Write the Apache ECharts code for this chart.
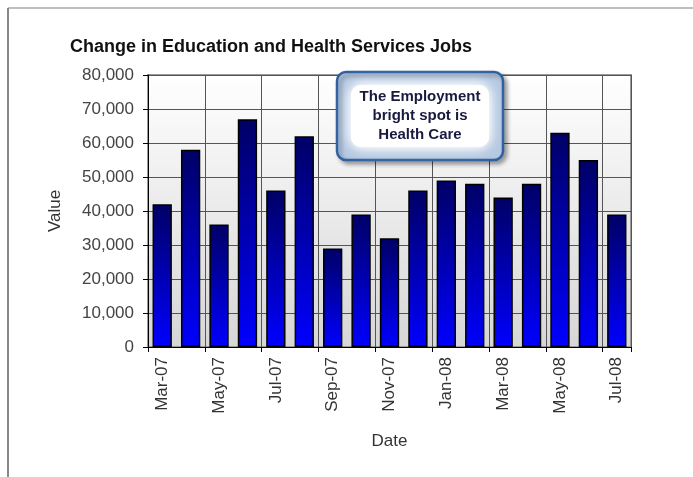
<!DOCTYPE html>
<html>
<head>
<meta charset="utf-8">
<script src="https://cdn.jsdelivr.net/npm/echarts@6/dist/echarts.min.js"></script>
<style>html,body{margin:0;padding:0;background:#fff;}#c{width:693px;height:477px;}</style>
</head>
<body>
<div id="c"></div>
<script>
var categories = ['Mar-07','Apr-07','May-07','Jun-07','Jul-07','Aug-07','Sep-07','Oct-07','Nov-07','Dec-07','Jan-08','Feb-08','Mar-08','Apr-08','May-08','Jun-08','Jul-08'];
var jobValues = [42000, 58000, 36000, 67000, 46000, 62000, 29000, 39000, 32000, 46000, 49000, 48000, 44000, 48000, 63000, 55000, 39000];
var chartTitle = 'Change in Education and Health Services Jobs';
var noteText = 'The Employment\nbright spot is\nHealth Care';

var FONT = 'Arial, "Liberation Sans", sans-serif';
var chart = echarts.init(document.getElementById('c'), null, {renderer: 'canvas'});
chart.setOption({
  backgroundColor: '#ffffff',
  animation: false,
  title: {
    text: chartTitle,
    left: 65, top: 33,
    textStyle: {fontFamily: FONT, fontSize: 18, fontWeight: 'bold', color: '#111'}
  },
  grid: {
    left: 148, right: 62, top: 75, bottom: 130,
    show: true,
    borderColor: '#999', borderWidth: 2,
    backgroundColor: new echarts.graphic.LinearGradient(0, 0, 0, 1, [
      {offset: 0, color: '#ffffff'},
      {offset: 1, color: '#d6d6d6'}
    ])
  },
  xAxis: {
    type: 'category',
    data: categories,
    name: 'Date',
    nameLocation: 'middle',
    nameGap: 86,
    nameTextStyle: {fontFamily: FONT, fontSize: 17, color: '#333'},
    axisLine: {show: true, lineStyle: {color: '#000', width: 1}},
    axisTick: {show: true, interval: 1, length: 5, alignWithLabel: false, lineStyle: {color: '#000'}},
    axisLabel: {interval: 1, rotate: 90, fontFamily: FONT, fontSize: 17, color: '#333', margin: 10},
    splitLine: {show: true, interval: 1, lineStyle: {color: '#555', width: 1}}
  },
  yAxis: {
    type: 'value',
    min: 0, max: 80000, interval: 10000,
    name: 'Value',
    nameLocation: 'middle',
    nameGap: 84,
    nameTextStyle: {fontFamily: FONT, fontSize: 17, color: '#333'},
    axisLine: {show: true, lineStyle: {color: '#000', width: 1}},
    axisTick: {show: true, length: 5, lineStyle: {color: '#000'}},
    axisLabel: {
      fontFamily: FONT, fontSize: 17, color: '#444', margin: 14,
      formatter: function (v) { return v.toLocaleString('en-US'); }
    },
    splitLine: {show: true, lineStyle: {color: '#555', width: 1}}
  },
  series: [{
    type: 'bar',
    data: jobValues,
    barWidth: '68%',
    itemStyle: {
      color: new echarts.graphic.LinearGradient(0, 0, 0, 1, [
        {offset: 0, color: '#000066'},
        {offset: 1, color: '#0000ff'}
      ]),
      borderColor: '#000',
      borderWidth: 1.5
    }
  }],
  graphic: [
    {type: 'line', shape: {x1: 8, y1: 8, x2: 693, y2: 8}, style: {stroke: '#aaa', lineWidth: 1.5}, z: 100},
    {type: 'line', shape: {x1: 8, y1: 8, x2: 8, y2: 477}, style: {stroke: '#888', lineWidth: 2}, z: 100},
    {
      type: 'rect', z: 100,
      shape: {x: 337, y: 72, width: 166, height: 88, r: 9},
      style: {
        fill: '#b4c8e2',
        stroke: '#2f5f9f', lineWidth: 2.5,
        shadowBlur: 4, shadowOffsetX: 3, shadowOffsetY: 3, shadowColor: 'rgba(0,0,0,0.35)'
      }
    },
    {
      type: 'rect', z: 101,
      shape: {x: 351, y: 85, width: 138, height: 62, r: 10},
      style: {
        fill: '#ffffff',
        shadowBlur: 16, shadowColor: '#ffffff'
      }
    },
    {
      type: 'rect', z: 101,
      shape: {x: 351, y: 85, width: 138, height: 62, r: 10},
      style: {
        fill: '#ffffff',
        shadowBlur: 10, shadowColor: '#ffffff'
      }
    },
    {
      type: 'text', z: 102,
      x: 420, y: 116,
      style: {
        text: noteText,
        align: 'center', verticalAlign: 'middle',
        fontFamily: FONT, fontSize: 15, fontWeight: 'bold',
        fill: '#1a1a40', lineHeight: 19
      }
    }
  ]
});
</script>
</body>
</html>
